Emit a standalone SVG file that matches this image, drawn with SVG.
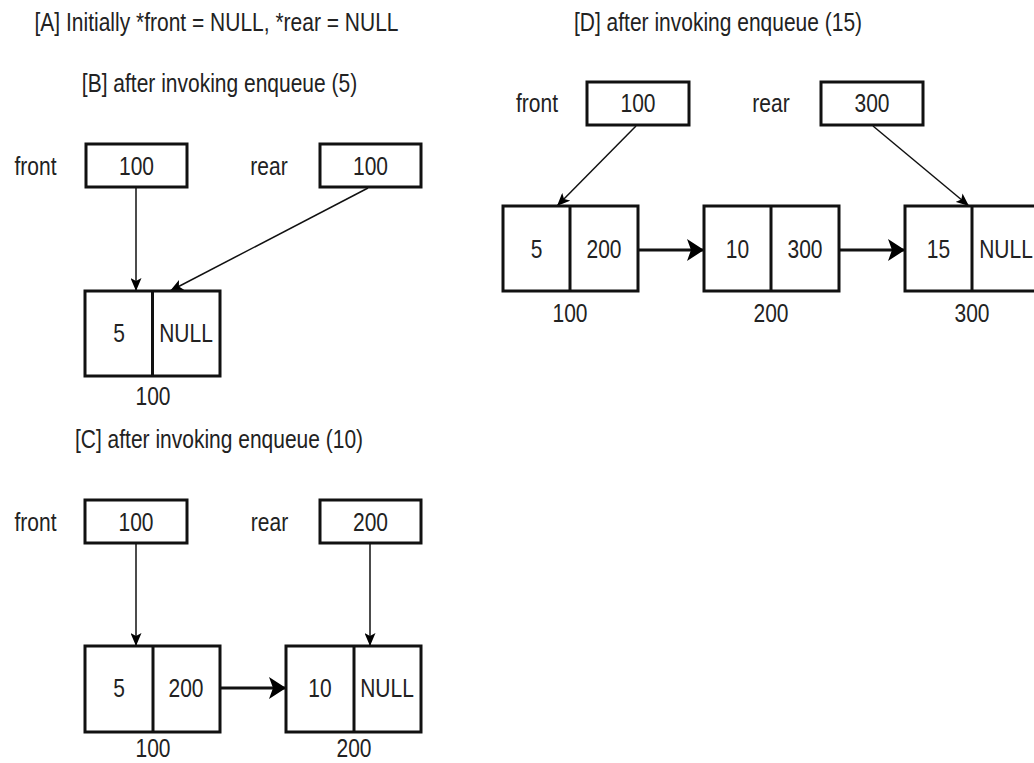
<svg xmlns="http://www.w3.org/2000/svg" width="1034" height="763" viewBox="0 0 1034 763">
<defs>
<style>
text{font-family:"Liberation Sans",Arial,sans-serif;font-size:25px;fill:#222;text-anchor:middle}
.box{fill:#fff;stroke:#111;stroke-width:3}
.div{stroke:#111;stroke-width:3}
.ptr{stroke:#111;stroke-width:1.5;fill:none}
.lnk{stroke:#111;stroke-width:3;fill:none}
</style>
<marker id="ah" viewBox="0 0 13 11" refX="13" refY="5.5" markerWidth="13" markerHeight="11" markerUnits="userSpaceOnUse" orient="auto">
<path d="M0,0 L13,5.5 L0,11 L3,5.5 Z" fill="#000"/>
</marker>
<marker id="ahb" viewBox="0 0 17 22" refX="17" refY="11" markerWidth="17" markerHeight="22" markerUnits="userSpaceOnUse" orient="auto">
<path d="M0,0 L17,11 L0,22 L4,11 Z" fill="#000"/>
</marker>
</defs>
<rect width="1034" height="763" fill="#fff"/>

<g id="titles">
<text transform="translate(216.5,31) scale(0.84,1)">[A] Initially *front = NULL, *rear = NULL</text>
<text transform="translate(219.5,92) scale(0.84,1)">[B] after invoking enqueue (5)</text>
<text transform="translate(219,448) scale(0.84,1)">[C] after invoking enqueue (10)</text>
<text transform="translate(718,31) scale(0.84,1)">[D] after invoking enqueue (15)</text>
</g>

<g id="connectors">
<line class="ptr" x1="136" y1="188" x2="136" y2="291" marker-end="url(#ah)"/>
<line class="ptr" x1="368" y1="188" x2="170" y2="291" marker-end="url(#ah)"/>
<line class="ptr" x1="136" y1="544" x2="136" y2="646" marker-end="url(#ah)"/>
<line class="ptr" x1="370" y1="544" x2="370" y2="646" marker-end="url(#ah)"/>
<line class="lnk" x1="221" y1="688" x2="286" y2="688" marker-end="url(#ahb)"/>
<line class="ptr" x1="636" y1="126" x2="557" y2="206" marker-end="url(#ah)"/>
<line class="ptr" x1="873" y1="126" x2="969" y2="206" marker-end="url(#ah)"/>
<line class="lnk" x1="639" y1="250" x2="704" y2="250" marker-end="url(#ahb)"/>
<line class="lnk" x1="840" y1="250" x2="905" y2="250" marker-end="url(#ahb)"/>
</g>

<!-- B -->
<g id="b-front">
<text transform="translate(35.5,175) scale(0.84,1)">front</text>
<rect class="box" x="86" y="144" width="101" height="43"/>
<text transform="translate(136.5,175) scale(0.84,1)">100</text>
</g>
<g id="b-rear">
<text transform="translate(269,175) scale(0.84,1)">rear</text>
<rect class="box" x="320" y="144" width="101" height="43"/>
<text transform="translate(370.5,175) scale(0.84,1)">100</text>
</g>
<g id="b-node100">
<rect class="box" x="85" y="291" width="135" height="85"/>
<line class="div" x1="152.5" y1="291" x2="152.5" y2="376"/>
<text transform="translate(119,342) scale(0.84,1)">5</text>
<text transform="translate(186,342) scale(0.84,1)">NULL</text>
<text transform="translate(153,405) scale(0.84,1)">100</text>
</g>

<!-- C -->
<g id="c-front">
<text transform="translate(35.5,531) scale(0.84,1)">front</text>
<rect class="box" x="85" y="500" width="102" height="43"/>
<text transform="translate(136,531) scale(0.84,1)">100</text>
</g>
<g id="c-rear">
<text transform="translate(269.5,531) scale(0.84,1)">rear</text>
<rect class="box" x="320" y="500" width="101" height="43"/>
<text transform="translate(370.5,531) scale(0.84,1)">200</text>
</g>
<g id="c-node100">
<rect class="box" x="85" y="646" width="135" height="86"/>
<line class="div" x1="153" y1="646" x2="153" y2="732"/>
<text transform="translate(119,697) scale(0.84,1)">5</text>
<text transform="translate(186,697) scale(0.84,1)">200</text>
<text transform="translate(153,757) scale(0.84,1)">100</text>
</g>
<g id="c-node200">
<rect class="box" x="286" y="646" width="135" height="86"/>
<line class="div" x1="354" y1="646" x2="354" y2="732"/>
<text transform="translate(320,697) scale(0.84,1)">10</text>
<text transform="translate(387,697) scale(0.84,1)">NULL</text>
<text transform="translate(354,757) scale(0.84,1)">200</text>
</g>

<!-- D -->
<g id="d-front">
<text transform="translate(537,112) scale(0.84,1)">front</text>
<rect class="box" x="587" y="82" width="102" height="43"/>
<text transform="translate(638,112) scale(0.84,1)">100</text>
</g>
<g id="d-rear">
<text transform="translate(771,112) scale(0.84,1)">rear</text>
<rect class="box" x="821" y="82" width="102" height="43"/>
<text transform="translate(872,112) scale(0.84,1)">300</text>
</g>
<g id="d-node100">
<rect class="box" x="503" y="206" width="135" height="85"/>
<line class="div" x1="570" y1="206" x2="570" y2="291"/>
<text transform="translate(536.5,258) scale(0.84,1)">5</text>
<text transform="translate(604,258) scale(0.84,1)">200</text>
<text transform="translate(570,322) scale(0.84,1)">100</text>
</g>
<g id="d-node200">
<rect class="box" x="704" y="206" width="135" height="85"/>
<line class="div" x1="771" y1="206" x2="771" y2="291"/>
<text transform="translate(737.5,258) scale(0.84,1)">10</text>
<text transform="translate(805,258) scale(0.84,1)">300</text>
<text transform="translate(771,322) scale(0.84,1)">200</text>
</g>
<g id="d-node300">
<rect class="box" x="905" y="206" width="135" height="85"/>
<line class="div" x1="972" y1="206" x2="972" y2="291"/>
<text transform="translate(938.5,258) scale(0.84,1)">15</text>
<text transform="translate(1006,258) scale(0.84,1)">NULL</text>
<text transform="translate(972,322) scale(0.84,1)">300</text>
</g>
</svg>
